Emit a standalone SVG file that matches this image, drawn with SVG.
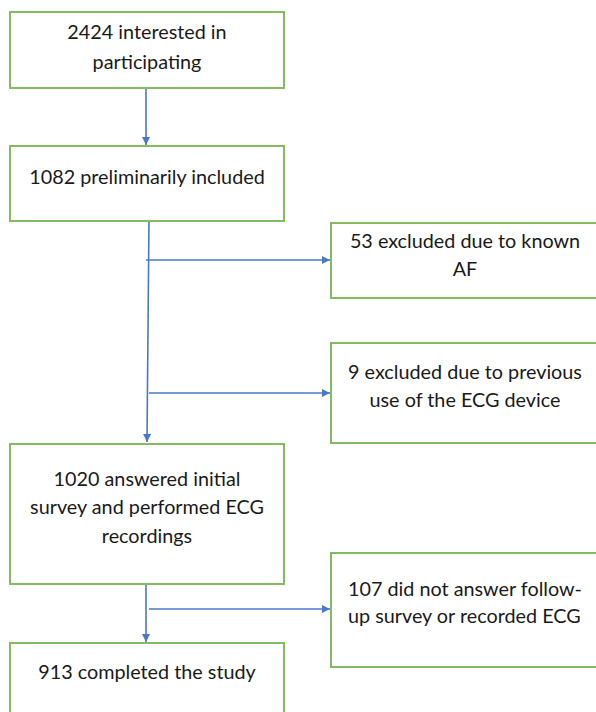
<svg xmlns="http://www.w3.org/2000/svg" width="596" height="712" viewBox="0 0 596 712">
<defs>
<style>
.box{fill:#ffffff;stroke:#84bb60;stroke-width:2}
.t{font-family:Lato,"Open Sans","Liberation Sans",sans-serif;font-size:19.8px;fill:#1a1a1a}
.c{text-anchor:middle}
.ln{stroke:#4a78c8;stroke-width:1.6;fill:none}
</style>
<marker id="ah2" viewBox="0 0 10 10" refX="10" refY="5" markerWidth="8" markerHeight="8" orient="auto" markerUnits="userSpaceOnUse">
<path d="M0,0 L10,5 L0,10 Z" fill="#4a78c8"/>
</marker>
</defs>
<rect width="596" height="712" fill="#ffffff"/>
<g id="connectors">
<line class="ln" x1="146" y1="88" x2="146" y2="145" marker-end="url(#ah2)"/>
<line class="ln" x1="149" y1="218" x2="147" y2="442" marker-end="url(#ah2)"/>
<line class="ln" x1="146" y1="260" x2="330" y2="260" marker-end="url(#ah2)"/>
<line class="ln" x1="149" y1="393" x2="330" y2="393" marker-end="url(#ah2)"/>
<line class="ln" x1="146" y1="584" x2="146" y2="642" marker-end="url(#ah2)"/>
<line class="ln" x1="149" y1="609" x2="330" y2="609" marker-end="url(#ah2)"/>
</g>
<g id="n1">
<rect class="box" x="10" y="12" width="274" height="76"/>
<text class="t c" x="147" y="39">2424 interested in</text>
<text class="t c" x="147" y="69">participating</text>
</g>
<g id="n2">
<rect class="box" x="10" y="146" width="274" height="75"/>
<text class="t c" x="147" y="184">1082 preliminarily included</text>
</g>
<g id="n3">
<rect class="box" x="331" y="223" width="270" height="75"/>
<text class="t c" x="465" y="248">53 excluded due to known</text>
<text class="t c" x="465" y="276">AF</text>
</g>
<g id="n4">
<rect class="box" x="331" y="343" width="270" height="100"/>
<text class="t c" x="465" y="379">9 excluded due to previous</text>
<text class="t c" x="465" y="407">use of the ECG device</text>
</g>
<g id="n5">
<rect class="box" x="10" y="444" width="274" height="140"/>
<text class="t c" x="147" y="486">1020 answered initial</text>
<text class="t c" x="147" y="514">survey and performed ECG</text>
<text class="t c" x="147" y="543">recordings</text>
</g>
<g id="n6">
<rect class="box" x="331" y="553" width="270" height="114"/>
<text class="t" x="348" y="596">107 did not answer follow-</text>
<text class="t" x="348" y="623">up survey or recorded ECG</text>
</g>
<g id="n7">
<rect class="box" x="10" y="643" width="274" height="80"/>
<text class="t c" x="147" y="679">913 completed the study</text>
</g>
</svg>
